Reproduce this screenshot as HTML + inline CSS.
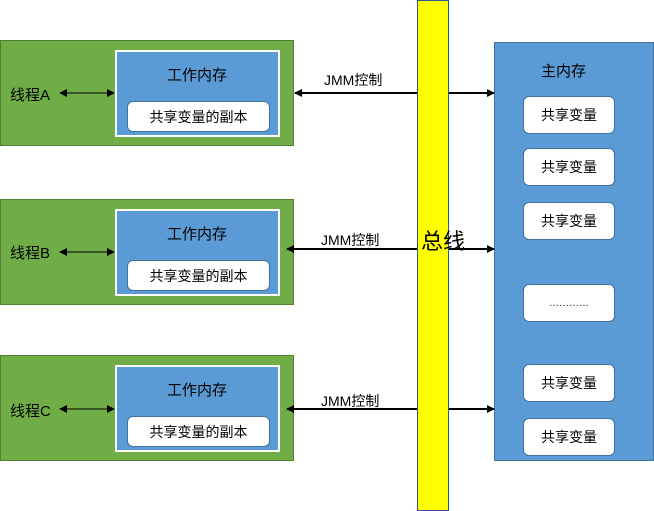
<!DOCTYPE html><html><head><meta charset="utf-8"><style>
body{margin:0;width:654px;height:511px;background:#fff;position:relative;overflow:hidden;font-family:"Liberation Sans","Noto Sans CJK SC",sans-serif;}
div{position:absolute;box-sizing:border-box}
.g{background:#70ad47;border:1px solid #507e32;left:0;width:294px;height:106px}
.b{background:#5b9bd5;border:2px solid #fff;left:115px;width:165px;height:87px}
.w{background:#fff;border:1px solid #41719c;border-radius:6px;display:flex;align-items:center;justify-content:center;font-size:14px;color:#000}
.t{font-size:15px;color:#000;white-space:nowrap}
</style></head><body>
<div class="g" style="top:40px"></div><div class="b" style="top:50px"></div>
<div class="w" style="left:127px;top:101px;width:143px;height:31px">共享变量的副本</div>
<div class="t" style="left:167px;top:64px">工作内存</div><div class="t" style="left:10px;top:84px">线程A</div>
<div class="g" style="top:199px"></div><div class="b" style="top:209px"></div>
<div class="w" style="left:127px;top:260px;width:143px;height:31px">共享变量的副本</div>
<div class="t" style="left:167px;top:223px">工作内存</div><div class="t" style="left:10px;top:242px">线程B</div>
<div class="g" style="top:355px"></div><div class="b" style="top:365px"></div>
<div class="w" style="left:127px;top:416px;width:143px;height:31px">共享变量的副本</div>
<div class="t" style="left:167px;top:379px">工作内存</div><div class="t" style="left:10px;top:400px">线程C</div>
<div style="left:417px;top:0;width:32px;height:511px;background:#ff0;border:1px solid #2f5597"></div>
<div class="t" style="left:421px;top:228px;font-size:22px;line-height:27px;width:24px;text-align:center">总线</div>
<div style="left:494px;top:42px;width:160px;height:419px;background:#5b9bd5;border:1px solid #41719c"></div>
<div class="t" style="left:541px;top:60px">主内存</div>
<div class="w" style="left:523px;top:96px;width:92px;height:38px">共享变量</div>
<div class="w" style="left:523px;top:148px;width:92px;height:38px">共享变量</div>
<div class="w" style="left:523px;top:202px;width:92px;height:38px">共享变量</div>
<div class="w" style="left:523px;top:284px;width:92px;height:38px;font-size:10px">…………</div>
<div class="w" style="left:523px;top:364px;width:92px;height:38px">共享变量</div>
<div class="w" style="left:523px;top:418px;width:92px;height:38px">共享变量</div>
<div class="t" style="left:324px;top:70px;font-size:14px">JMM控制</div>
<div class="t" style="left:321px;top:230px;font-size:14px">JMM控制</div>
<div class="t" style="left:321px;top:391px;font-size:14px">JMM控制</div>
<svg width="654" height="511" style="position:absolute;left:0;top:0">
<defs><marker id="a" markerWidth="8" markerHeight="8" refX="7" refY="4" orient="auto-start-reverse" markerUnits="userSpaceOnUse"><path d="M0,0L8,4L0,8z" fill="#000"/></marker></defs>
<g stroke="#000" stroke-width="2" fill="none">
<line x1="60" y1="93" x2="114" y2="93" stroke-width="1" marker-start="url(#a)" marker-end="url(#a)"/>
<line x1="60" y1="252" x2="114" y2="252" stroke-width="1" marker-start="url(#a)" marker-end="url(#a)"/>
<line x1="60" y1="409" x2="114" y2="409" stroke-width="1" marker-start="url(#a)" marker-end="url(#a)"/>
<line x1="295" y1="93" x2="417" y2="93" marker-start="url(#a)"/><line x1="449" y1="93" x2="494" y2="93" marker-end="url(#a)"/>
<line x1="287" y1="249" x2="417" y2="249" marker-start="url(#a)"/><line x1="449" y1="249" x2="494" y2="249" marker-end="url(#a)"/>
<line x1="287" y1="409" x2="417" y2="409" marker-start="url(#a)"/><line x1="449" y1="409" x2="494" y2="409" marker-end="url(#a)"/>
</g></svg>
</body></html>
